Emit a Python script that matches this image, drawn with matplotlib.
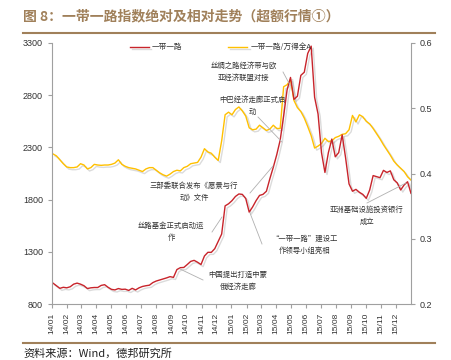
import pandas as pd
import matplotlib
matplotlib.use("Agg")
import matplotlib.pyplot as plt
import matplotlib.dates as mdates
import matplotlib.patheffects as pe
from matplotlib.lines import Line2D

plt.rcParams['font.family'] = ['Noto Sans CJK SC', 'DejaVu Sans']

# weekly data, Jan 2014 - Dec 2015
dates = pd.date_range('2014-01-03', periods=105, freq='W-FRI')
months = pd.date_range('2014-01-01', '2015-12-01', freq='MS')

# 一带一路 index (left axis)
ydyl = [1000, 975, 950, 960, 955, 965, 990, 1000, 990, 975,
        948, 955, 958, 958, 978, 985, 960, 940, 935, 948,
        940, 942, 930, 950, 935, 955, 968, 975, 980, 1005,
        1020, 1030, 1040, 1050, 1062, 1055, 1130, 1148, 1150, 1178,
        1208, 1218, 1200, 1178, 1260, 1295, 1295, 1330, 1400, 1470,
        1740, 1760, 1790, 1830, 1854, 1850, 1810, 1680, 1730, 1790,
        1840, 1850, 1880, 2000, 2110, 2230, 2370, 2600, 2850, 2970,
        2760, 2790, 2990, 3020, 3200, 3270, 2780, 2620, 2250, 2060,
        2250, 2380, 2210, 2250, 2420, 2200, 1950, 1880, 1898, 1870,
        1850, 1812, 1892, 2030, 2020, 2010, 2080, 2060, 2075, 1990,
        1960, 1892, 1940, 1971, 1860]

# 一带一路/万得全A ratio (right axis)
ratio = [0.430, 0.427, 0.421, 0.415, 0.410, 0.409, 0.409, 0.410, 0.415, 0.413,
         0.407, 0.409, 0.414, 0.413, 0.4125, 0.413, 0.413, 0.414, 0.416, 0.421,
         0.414, 0.411, 0.409, 0.408, 0.407, 0.405, 0.403, 0.407, 0.409, 0.409,
         0.405, 0.401, 0.398, 0.396, 0.399, 0.403, 0.405, 0.404, 0.409, 0.411,
         0.415, 0.416, 0.417, 0.425, 0.438, 0.433, 0.431, 0.425, 0.420, 0.450,
         0.490, 0.494, 0.490, 0.498, 0.502, 0.496, 0.488, 0.470, 0.467, 0.468,
         0.474, 0.470, 0.466, 0.468, 0.474, 0.469, 0.469, 0.533, 0.536, 0.544,
         0.512, 0.501, 0.495, 0.485, 0.472, 0.458, 0.439, 0.442, 0.446, 0.454,
         0.449, 0.450, 0.455, 0.457, 0.460, 0.461, 0.467, 0.489, 0.479, 0.490,
         0.487, 0.480, 0.476, 0.469, 0.461, 0.453, 0.444, 0.436, 0.428, 0.419,
         0.413, 0.408, 0.403, 0.395, 0.390]

left_ticks = [800, 1300, 1800, 2300, 2800, 3300]
right_ticks = [0.2, 0.3, 0.4, 0.5, 0.6]

# event notes: text, text centre (px), leader line (px)
notes = [
    ("丝绸之路经济带与欧\n亚经济联盟对接", (244, 72), [(283, 72), (290, 85)]),
    ("中巴经济走廊正式启\n动", (252, 106), [(258, 117), (282, 142)]),
    ("三部委联合发布《愿景与行\n动》文件", (194, 192), [(250, 193), (273, 166)]),
    ("丝路基金正式启动运\n作", (171, 232), [(212, 232), (222, 217)]),
    ("中国提出打造中蒙\n俄经济走廊", (238, 281), [(203, 280), (180, 269)]),
    ("“一带一路”建设工\n作领导小组亮相", (305, 245), [(262, 244), (250, 213)]),
    ("亚洲基础设施投资银行\n成立", (367, 216), [(367, 203), (406, 183)]),
]

W, H = 451, 360
fig = plt.figure(figsize=(W / 100, H / 100), dpi=100)


def fx(x, y):
    return x / W, 1 - y / H


ax = fig.add_axes([52 / W, 1 - 304 / H, (411 - 52) / W, (304 - 43) / H])
ax2 = ax.twinx()

shadow = [pe.SimpleLineShadow(offset=(1.5, -1.5), shadow_color='#999999', alpha=0.35), pe.Normal()]
l2, = ax2.plot(dates, ratio, color='#FFC000', lw=1.0, path_effects=shadow, label='一带一路/万得全A')
l1, = ax.plot(dates, ydyl, color='#C8242B', lw=1.0, path_effects=shadow, label='一带一路')
ax.set_zorder(ax2.get_zorder() + 1)
ax.patch.set_visible(False)

ax.set_ylim(800, 3300)
ax.set_yticks(left_ticks)
ax2.set_ylim(0.2, 0.6)
ax2.set_yticks(right_ticks)
ax2.set_yticklabels([f"{v:.1f}" for v in right_ticks])
ax.set_xlim(pd.Timestamp('2014-01-01'), pd.Timestamp('2016-01-01'))
ax.set_xticks(months)
ax.xaxis.set_major_formatter(mdates.DateFormatter('%y/%m'))

for a in (ax, ax2):
    a.spines['top'].set_visible(False)
    for s in ('left', 'right', 'bottom'):
        a.spines[s].set_color('#A0A0A0')
        a.spines[s].set_linewidth(0.8)
    a.tick_params(colors='#A0A0A0', length=3, width=0.8, labelcolor='#333333')
ax.spines['right'].set_visible(False)
ax2.spines['left'].set_visible(False)
ax2.spines['bottom'].set_visible(False)

for lab in ax.get_xticklabels():
    lab.set_rotation(90)
    lab.set_fontsize(6)
    lab.set_family('Liberation Sans')
for lab in ax.get_yticklabels() + ax2.get_yticklabels():
    lab.set_fontsize(6.5)
    lab.set_family('Liberation Sans')

leg = ax.legend(handles=[l1, l2], loc='upper center', bbox_to_anchor=(0.47, 1.025),
                ncol=2, frameon=False, fontsize=5.5, handlelength=2.5,
                columnspacing=6, handletextpad=0.4)
for t in leg.get_texts():
    t.set_color('#333333')

for text, (tx, ty), line in notes:
    fig.text(*fx(tx, ty), text, ha='center', va='center', fontsize=5.3,
             color='#333333', linespacing=1.6)
    (x0, y0), (x1, y1) = line
    fig.add_artist(Line2D([x0 / W, x1 / W], [1 - y0 / H, 1 - y1 / H],
                          transform=fig.transFigure, color='#B0B0B0', lw=0.6))

# title, rules and source
brown = '#A0805A'
fig.text(*fx(23, 16), "图 8：一带一路指数绝对及相对走势（超额行情①）", fontsize=10,
         fontweight='bold', color=brown, va='center', ha='left')
fig.add_artist(Line2D([23 / W, 435 / W], [1 - 33 / H] * 2, transform=fig.transFigure,
                      color=brown, lw=1.5))
fig.add_artist(Line2D([23 / W, 435 / W], [1 - 343 / H] * 2, transform=fig.transFigure,
                      color=brown, lw=1.5))
fig.text(*fx(23, 353), "资料来源：Wind，德邦研究所", fontsize=8, color='#222222',
         va='center', ha='left')

fig.savefig('out.png', dpi=100)
